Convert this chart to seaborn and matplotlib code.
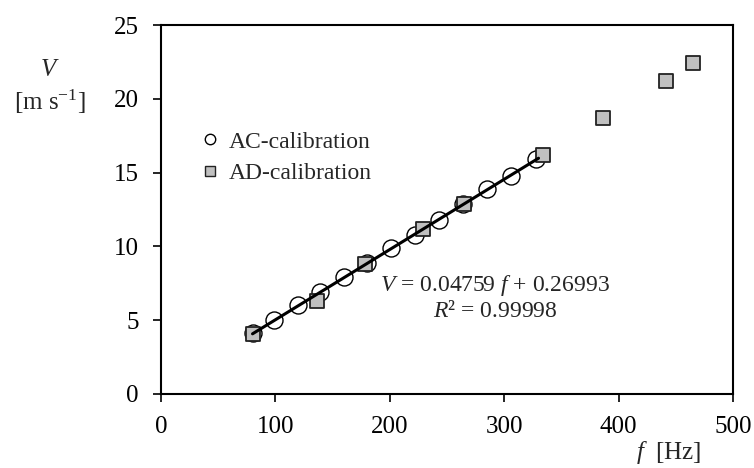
import matplotlib
matplotlib.use("Agg")
import matplotlib.pyplot as plt
from matplotlib.lines import Line2D
import pandas as pd
import seaborn as sns

# AC-calibration (circles)
ac_f = [80, 99, 120, 139, 160, 180, 201, 222, 243, 264, 285, 306, 328]
ac_v = [4.1, 5.0, 6.0, 6.9, 7.9, 8.9, 9.9, 10.8, 11.8, 12.9, 13.9, 14.8, 15.9]

# AD-calibration (squares)
ad_f = [80, 136, 178, 229, 265, 334, 386, 441, 465]
ad_v = [4.05, 6.3, 8.8, 11.2, 12.9, 16.2, 18.7, 21.2, 22.4]

# linear fit shown on the chart
slope = 0.04759
intercept = 0.26993
fit_range = [80, 330]

x_ticks = [0, 100, 200, 300, 400, 500]
y_ticks = [0, 5, 10, 15, 20, 25]

sns.set_style("white")
plt.rcParams["font.family"] = ["Liberation Serif", "DejaVu Serif"]
plt.rcParams["mathtext.fontset"] = "custom"
plt.rcParams["mathtext.rm"] = "Liberation Serif"
plt.rcParams["mathtext.it"] = "Liberation Serif:italic"

df_ac = pd.DataFrame({"f": ac_f, "V": ac_v})
df_ad = pd.DataFrame({"f": ad_f, "V": ad_v})
df_fit = pd.DataFrame({"f": fit_range, "V": [slope * f + intercept for f in fit_range]})

fig = plt.figure(figsize=(7.54, 4.68), dpi=100)
ax = fig.add_axes([161 / 754, 74 / 468, 572 / 754, 369 / 468])

sns.scatterplot(data=df_ac, x="f", y="V", ax=ax, marker="o", s=150,
                facecolor="white", edgecolor="black", linewidth=1.0, zorder=2)
sns.scatterplot(data=df_ad, x="f", y="V", ax=ax, marker="s", s=100,
                color="#c0c0c0", edgecolor="#222222", linewidth=1.3, zorder=3)
sns.lineplot(data=df_fit, x="f", y="V", ax=ax, color="black", linewidth=2.2, zorder=4)

ax.set_xlim(0, 500)
ax.set_ylim(0, 25)
ax.set_xticks(x_ticks)
ax.set_yticks(y_ticks)
ax.set_xlabel("")
ax.set_ylabel("")
ax.tick_params(axis="both", direction="out", length=6, width=1.2, labelsize=18,
               colors="black", bottom=True, left=True)
ax.tick_params(axis="y", pad=10)
ax.tick_params(axis="x", pad=10)
for sp in ax.spines.values():
    sp.set_color("black")
    sp.set_linewidth(1.5)

handles = [
    Line2D([], [], marker="o", linestyle="", markerfacecolor="white",
           markeredgecolor="black", markersize=7.5, markeredgewidth=1.0),
    Line2D([], [], marker="s", linestyle="", markerfacecolor="#c0c0c0",
           markeredgecolor="#222222", markersize=7, markeredgewidth=1.0),
]
ax.legend(handles, ["AC-calibration", "AD-calibration"], loc="upper left",
          bbox_to_anchor=(198 / 754, 1 - 131 / 468), bbox_transform=fig.transFigure,
          frameon=False, fontsize=17, handletextpad=0.3, labelspacing=0.42,
          handlelength=1.0, borderaxespad=0, borderpad=0)

ax.text(292, 7.38, r"$V$ = 0.04759 $f$ + 0.26993", fontsize=17, ha="center", va="center")
ax.text(292, 5.62, r"$R$² = 0.99998", fontsize=17, ha="center", va="center")

fig.text(50 / 754, 1 - 70 / 468, r"$V$", fontsize=18, ha="center", va="center")
fig.text(50 / 754, 1 - 102 / 468, r"[m s$^{-1}$]", fontsize=18, ha="center", va="center")
fig.text(669 / 754, 1 - 453 / 468, r"$f$  [Hz]", fontsize=18, ha="center", va="center")

fig.savefig("out.png", dpi=100)
